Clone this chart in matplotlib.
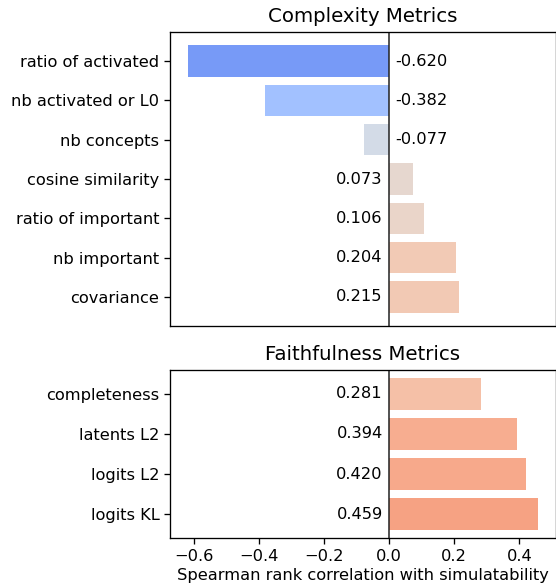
import matplotlib
matplotlib.use('Agg')
import matplotlib.pyplot as plt
from matplotlib.colors import Normalize

complexity_names = ['ratio of activated', 'nb activated or L0', 'nb concepts',
                    'cosine similarity', 'ratio of important', 'nb important', 'covariance']
complexity_values = [-0.620, -0.382, -0.077, 0.073, 0.106, 0.204, 0.215]

faithfulness_names = ['completeness', 'latents L2', 'logits L2', 'logits KL']
faithfulness_values = [0.281, 0.394, 0.420, 0.459]

cmap = plt.get_cmap('coolwarm')
norm = Normalize(-1, 1)
fs = 11.7

fig = plt.figure(figsize=(5.56, 5.88), dpi=100)
ax1 = fig.add_axes([170 / 556, 1 - 326 / 588, 386 / 556, 294 / 588])
ax2 = fig.add_axes([170 / 556, 1 - 538 / 588, 386 / 556, 168 / 588], sharex=ax1)


def draw(ax, names, values, title):
    ypos = list(range(len(names)))
    ax.barh(ypos, values, color=[cmap(norm(v)) for v in values])
    ax.set_yticks(ypos)
    ax.set_yticklabels(names, fontsize=fs)
    ax.tick_params(length=4.1, width=0.95)
    ax.invert_yaxis()
    ax.axvline(0, color='#222222', linewidth=1.1)
    for y, v in zip(ypos, values):
        if v < 0:
            ax.text(0.02, y, f'{v:.3f}', va='center', ha='left', fontsize=fs)
        else:
            ax.text(-0.02, y, f'{v:.3f}', va='center', ha='right', fontsize=fs)
    ax.set_title(title, fontsize=14.2, pad=7)
    for s in ax.spines.values():
        s.set_linewidth(0.95)


draw(ax1, complexity_names, complexity_values, 'Complexity Metrics')
draw(ax2, faithfulness_names, faithfulness_values, 'Faithfulness Metrics')
ax1.tick_params(axis='x', bottom=False, labelbottom=False)
ax2.tick_params(axis='x', labelsize=fs)
ax2.set_xlabel('Spearman rank correlation with simulatability', fontsize=fs, labelpad=3)

fig.savefig('out.png', dpi=100)
